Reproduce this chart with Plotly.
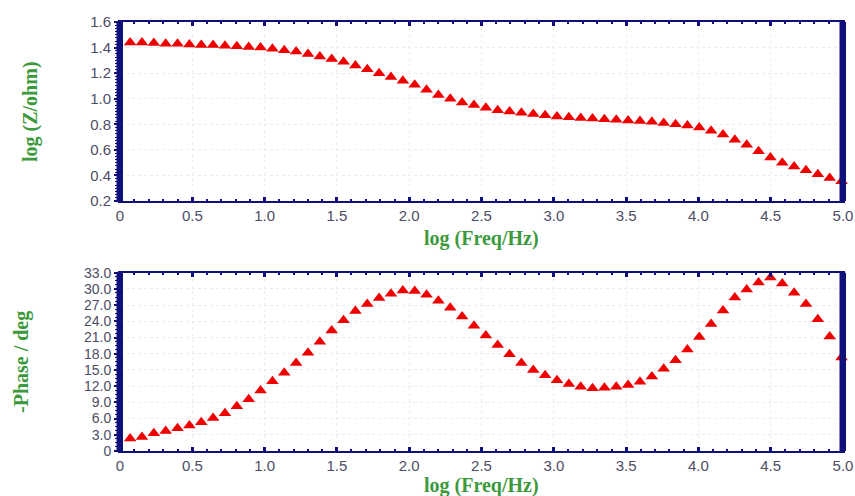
import plotly.graph_objects as go

log_freq = [0.07, 0.152, 0.234, 0.316, 0.398, 0.48, 0.562, 0.644, 0.726, 0.808,
            0.89, 0.972, 1.054, 1.136, 1.218, 1.30, 1.382, 1.464, 1.546, 1.628,
            1.71, 1.792, 1.874, 1.956, 2.038, 2.12, 2.202, 2.284, 2.366, 2.448,
            2.53, 2.612, 2.694, 2.776, 2.858, 2.94, 3.022, 3.104, 3.186, 3.268,
            3.35, 3.432, 3.514, 3.596, 3.678, 3.76, 3.842, 3.924, 4.006, 4.088,
            4.17, 4.252, 4.334, 4.416, 4.498, 4.58, 4.662, 4.744, 4.826, 4.908, 4.99]

log_z = [1.44, 1.44, 1.435, 1.43, 1.43, 1.425, 1.42, 1.42, 1.415, 1.41,
         1.405, 1.40, 1.39, 1.38, 1.37, 1.35, 1.33, 1.31, 1.29, 1.26,
         1.23, 1.20, 1.17, 1.14, 1.11, 1.07, 1.03, 1.00, 0.97, 0.95,
         0.93, 0.91, 0.90, 0.89, 0.88, 0.87, 0.86, 0.855, 0.85, 0.845,
         0.84, 0.835, 0.83, 0.825, 0.82, 0.81, 0.80, 0.79, 0.775, 0.75,
         0.72, 0.68, 0.64, 0.59, 0.54, 0.50, 0.47, 0.44, 0.41, 0.38, 0.355]

neg_phase = [2.3, 2.6, 3.3, 3.7, 4.2, 4.7, 5.3, 6.1, 7.0, 8.3,
             9.6, 11.2, 12.9, 14.5, 16.3, 18.2, 20.2, 22.3, 24.2, 25.9,
             27.2, 28.3, 29.1, 29.7, 29.6, 28.9, 27.8, 26.5, 24.9, 23.2,
             21.4, 19.6, 17.9, 16.3, 15.0, 14.0, 13.1, 12.4, 11.9, 11.6,
             11.7, 11.9, 12.2, 12.8, 13.8, 15.2, 16.8, 18.8, 21.1, 23.5,
             26.0, 28.4, 29.9, 31.2, 32.1, 31.0, 29.3, 27.2, 24.4, 21.2, 17.3]

x_ticks = [0, 0.5, 1.0, 1.5, 2.0, 2.5, 3.0, 3.5, 4.0, 4.5, 5.0]
x_ticktext = ["0", "0.5", "1.0", "1.5", "2.0", "2.5", "3.0", "3.5", "4.0", "4.5", "5.0"]
z_ticks = [0.2, 0.4, 0.6, 0.8, 1.0, 1.2, 1.4, 1.6]
z_ticktext = ["0.2", "0.4", "0.6", "0.8", "1.0", "1.2", "1.4", "1.6"]
p_ticks = [0, 3, 6, 9, 12, 15, 18, 21, 24, 27, 30, 33]
p_ticktext = ["0", "3.0", "6.0", "9.0", "12.0", "15.0", "18.0", "21.0", "24.0", "27.0", "30.0", "33.0"]

W, H = 855, 496


def px(x):
    return x / W


def py(y):
    return 1 - y / H


NAVY = "#10107a"
GREEN = "#3c9a3c"
TICKCOL = "#4d4d66"

fig = go.Figure()
marker = dict(symbol="triangle-up", size=11, color="#ee0000",
              line=dict(width=0))
fig.add_trace(go.Scatter(x=log_freq, y=log_z, mode="markers", marker=marker,
                         xaxis="x", yaxis="y", showlegend=False, cliponaxis=False))
fig.add_trace(go.Scatter(x=log_freq, y=neg_phase, mode="markers", marker=marker,
                         xaxis="x2", yaxis="y2", showlegend=False, cliponaxis=False))

xdom = [px(120), px(843)]
top_dom = [py(201), py(22)]
bot_dom = [py(451), py(272.7)]

tickfont = dict(family="Arial", size=15, color=TICKCOL)
common_x = dict(range=[0, 5], tickvals=x_ticks, ticktext=x_ticktext,
                showline=True, linecolor=NAVY, linewidth=2, mirror="allticks",
                ticks="inside", ticklen=4, tickwidth=3, tickcolor=NAVY,
                minor=dict(ticks="inside", ticklen=2, tickwidth=2, tickcolor=NAVY, dtick=0.1),
                showgrid=True, gridcolor="#ededed", griddash="dot", gridwidth=1,
                zeroline=False, tickfont=tickfont, domain=xdom,
                automargin=False, fixedrange=True)
common_y = dict(showline=True, linecolor=NAVY, linewidth=2, mirror=True,
                ticks="outside", ticklen=4, tickwidth=2, tickcolor=NAVY,
                showgrid=True, gridcolor="#ededed", griddash="dot", gridwidth=1,
                zeroline=False, automargin=False, fixedrange=True)

fig.update_layout(
    width=W, height=H,
    margin=dict(l=0, r=0, t=0, b=0),
    paper_bgcolor="white", plot_bgcolor="white",
    xaxis=dict(**common_x, anchor="y"),
    yaxis=dict(**common_y, range=[0.2, 1.6], tickvals=z_ticks, ticktext=z_ticktext,
               tickfont=tickfont,
               minor=dict(ticks="outside", ticklen=3, tickwidth=1, tickcolor=NAVY, dtick=0.025),
               domain=top_dom, anchor="x"),
    xaxis2=dict(**common_x, anchor="y2"),
    yaxis2=dict(**common_y, range=[0, 33], tickvals=p_ticks, ticktext=p_ticktext,
                tickfont=dict(family="Arial", size=14, color=TICKCOL),
                minor=dict(ticks="outside", ticklen=3, tickwidth=1, tickcolor=NAVY, dtick=0.75),
                domain=bot_dom, anchor="x2"),
)

# thick left/right frame bars
for dom in (top_dom, bot_dom):
    for (a, b) in ((116.5, 123), (839.5, 846)):
        fig.add_shape(type="rect", xref="paper", yref="paper",
                      x0=px(a), x1=px(b), y0=dom[0], y1=dom[1],
                      fillcolor=NAVY, line=dict(width=0), layer="above")

titlefont = dict(family="Liberation Serif", size=20, color=GREEN)
fig.add_annotation(text="<b>log (Freq/Hz)</b>", xref="paper", yref="paper",
                   x=px(481), y=py(238), showarrow=False, font=titlefont,
                   xanchor="center", yanchor="middle")
fig.add_annotation(text="<b>log (Freq/Hz)</b>", xref="paper", yref="paper",
                   x=px(481), y=py(485), showarrow=False, font=titlefont,
                   xanchor="center", yanchor="middle")
fig.add_annotation(text="<b>log (Z/ohm)</b>", xref="paper", yref="paper",
                   x=px(30), y=py(112), showarrow=False, font=titlefont,
                   textangle=-90, xanchor="center", yanchor="middle")
fig.add_annotation(text="<b>-Phase / deg</b>", xref="paper", yref="paper",
                   x=px(21), y=py(362), showarrow=False, font=titlefont,
                   textangle=-90, xanchor="center", yanchor="middle")

fig.write_html(
    "out.html",
    config={"displayModeBar": False, "staticPlot": True},
    post_script="document.body.style.margin='0';document.body.style.overflow='hidden';",
)
